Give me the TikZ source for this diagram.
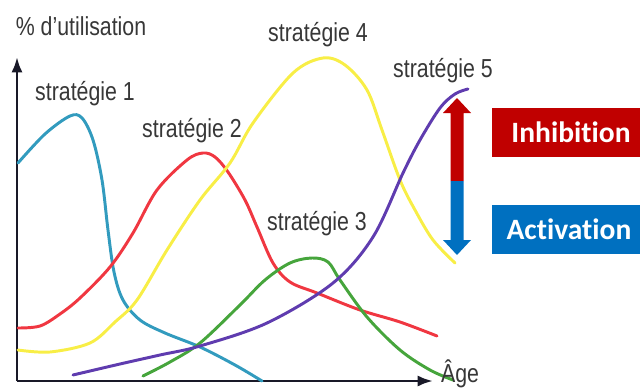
\documentclass[tikz,border=0pt]{standalone}
\usepackage{fontspec}
\setmainfont{Liberation Sans}
\newfontfamily\condfont[FakeStretch=0.82]{Liberation Sans}
\newfontfamily\boxfont[Ligatures={NoCommon,NoDiscretionary}]{Carlito}
\usetikzlibrary{arrows.meta}
\definecolor{axisblack}{RGB}{25,25,40}
\definecolor{labelgray}{RGB}{55,55,55}
\definecolor{curveteal}{RGB}{50,155,190}
\definecolor{curvered}{RGB}{240,55,65}
\definecolor{curveyellow}{RGB}{248,238,70}
\definecolor{curvegreen}{RGB}{70,165,60}
\definecolor{curvepurple}{RGB}{95,60,175}
\definecolor{inhibred}{RGB}{192,0,0}
\definecolor{activblue}{RGB}{0,112,192}
\tikzset{
  curve/.style={line width=2.1pt,line join=round,line cap=round},
  strat/.style={font=\condfont\fontsize{18.5}{21}\selectfont,text=labelgray,inner sep=0pt,anchor=base},
  tag/.style={font=\boxfont\bfseries\fontsize{21}{24}\selectfont,text=white,inner sep=0pt},
  axis/.style={line width=2pt,axisblack,-{Latex[length=11pt,width=8pt]}}
}
\begin{document}
\begin{tikzpicture}[x=0.025cm,y=-0.025cm]
                \useasboundingbox (0,0) rectangle (640,388);
                %% axis
                \coordinate (O) at (17,381);
                \coordinate (ytip) at (17,57);
                \coordinate (xtip) at (433,381);
                \draw[axis] (O) -- (ytip);
                \draw[axis] (O) -- (xtip);
                %% curves
                \draw[curve,curveteal] plot[smooth,tension=0.55] coordinates {(18,163) (45,134) (70,116) (82,118) (93,140) (102,180) (108,230) (114,272) (123,300) (140,320) (165,333) (200,347) (235,365) (262,381)};
                \draw[curve,curvered] plot[smooth,tension=0.55] coordinates {(18,328) (40,326) (60,314) (80,298) (110,267) (133,233) (157,190) (187,160) (203,153) (215,157) (228,172) (245,200) (257,227) (273,263) (290,282) (317,293) (360,310) (400,322) (437,336)};
                \draw[curve,curveyellow] plot[smooth,tension=0.55] coordinates {(18,350) (50,352) (90,343) (115,322) (137,300) (167,250) (200,200) (230,163) (253,123) (293,73) (323,58) (345,65) (367,90) (382,130) (400,180) (415,210) (433,240) (455,263)};
                \draw[curve,curvegreen] plot[smooth,tension=0.55] coordinates {(143,376) (170,362) (200,343) (240,305) (265,280) (290,263) (312,258) (328,262) (340,280) (367,317) (400,350) (430,370) (453,380)};
                \draw[curve,curvepurple] plot[smooth,tension=0.55] coordinates {(73,375) (120,364) (160,355) (200,346) (267,323) (333,283) (373,237) (403,173) (420,140) (440,108) (455,94) (468,89)};
                %% labels
                \node[strat] (ylab) at (81,35) {\% d’utilisation};
                \node[strat] (xlab) at (460,382) {Âge};
                \node[strat] (s1) at (85,100) {stratégie 1};
                \node[strat] (s2) at (192,137) {stratégie 2};
                \node[strat] (s3) at (317,230) {stratégie 3};
                \node[strat] (s4) at (318,41) {stratégie 4};
                \node[strat] (s5) at (443,77) {stratégie 5};
                %% double arrow
                \fill[inhibred] (443,113) -- (457,98) -- (471,113) -- (463.5,113) -- (463.5,181) -- (450.5,181) -- (450.5,113) -- cycle;
                \fill[activblue] (450.5,181) -- (463.5,181) -- (463.5,240) -- (471,240) -- (457,255) -- (443,240) -- (450.5,240) -- cycle;
                %% boxes
                \fill[inhibred] (492,108) rectangle (640,157);
                \fill[activblue] (492,205) rectangle (640,254);
                \node[tag] (inhib) at (571,132.5) {Inhibition};
                \node[tag] (activ) at (569,229.5) {Activation};
            \end{tikzpicture}
\end{document}
